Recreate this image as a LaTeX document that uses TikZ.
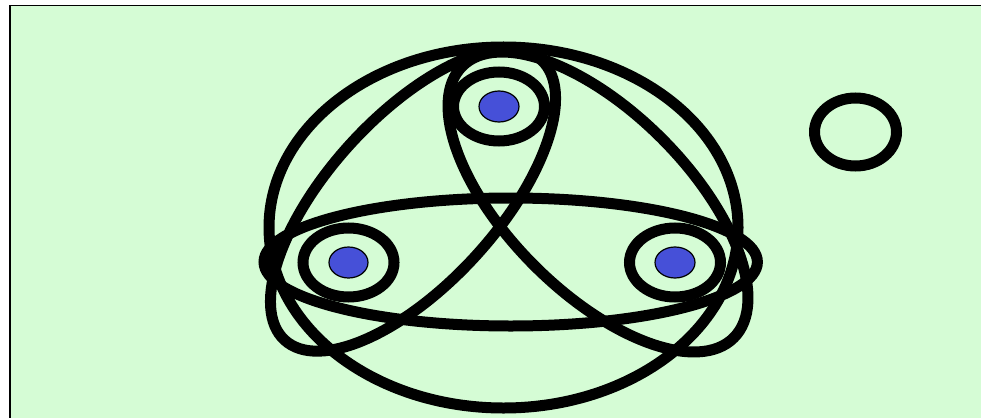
\documentclass[tikz,border=0pt]{standalone}
\definecolor{bggreen}{RGB}{213,252,213}
\definecolor{dotblue}{RGB}{70,80,216}
\begin{document}
\begin{tikzpicture}[x=1pt,y=-1pt,
  curve/.style={draw=black, line width=11pt},
  dotfill/.style={fill=dotblue, draw=black, line width=1.2pt},
  frameline/.style={draw=black, line width=1.8pt}]
\useasboundingbox (0,0) rectangle (981,417);
\begin{scope}
  \clip (0,0) rectangle (981,417);
  \fill[white] (0,0) rectangle (981,417);
  \fill[bggreen] (10,5.5) rectangle (990,430);
  \draw[frameline] (10,430) -- (10,5.5) -- (990,5.5);
\end{scope}
% large outer ellipse
\draw[curve] (503.5,227.5) ellipse [x radius=234.5, y radius=180.5];
% wide horizontal ellipse
\draw[curve] (510.7,262) ellipse [x radius=246.7, y radius=64];
% tilted ellipses
\draw[curve, rotate around={47.5:(413,200)}] (413,200) ellipse [x radius=190, y radius=84];
\draw[curve, rotate around={-45:(598,202)}] (598,202) ellipse [x radius=192, y radius=90];
% rings around the dots
\draw[curve] (348.5,262.5) ellipse [x radius=45.5, y radius=34.5];
\draw[curve] (499,106.5) ellipse [x radius=45.5, y radius=34.5];
\draw[curve] (675,262.5) ellipse [x radius=45.5, y radius=34.5];
% dots
\draw[dotfill] (348.5,262.5) ellipse [x radius=19.5, y radius=15.5];
\draw[dotfill] (499,106.5) ellipse [x radius=20, y radius=15.5];
\draw[dotfill] (675,262.5) ellipse [x radius=20, y radius=15.5];
% lone circle at right
\draw[curve] (855.5,132) ellipse [x radius=41, y radius=34];
\end{tikzpicture}
\end{document}
